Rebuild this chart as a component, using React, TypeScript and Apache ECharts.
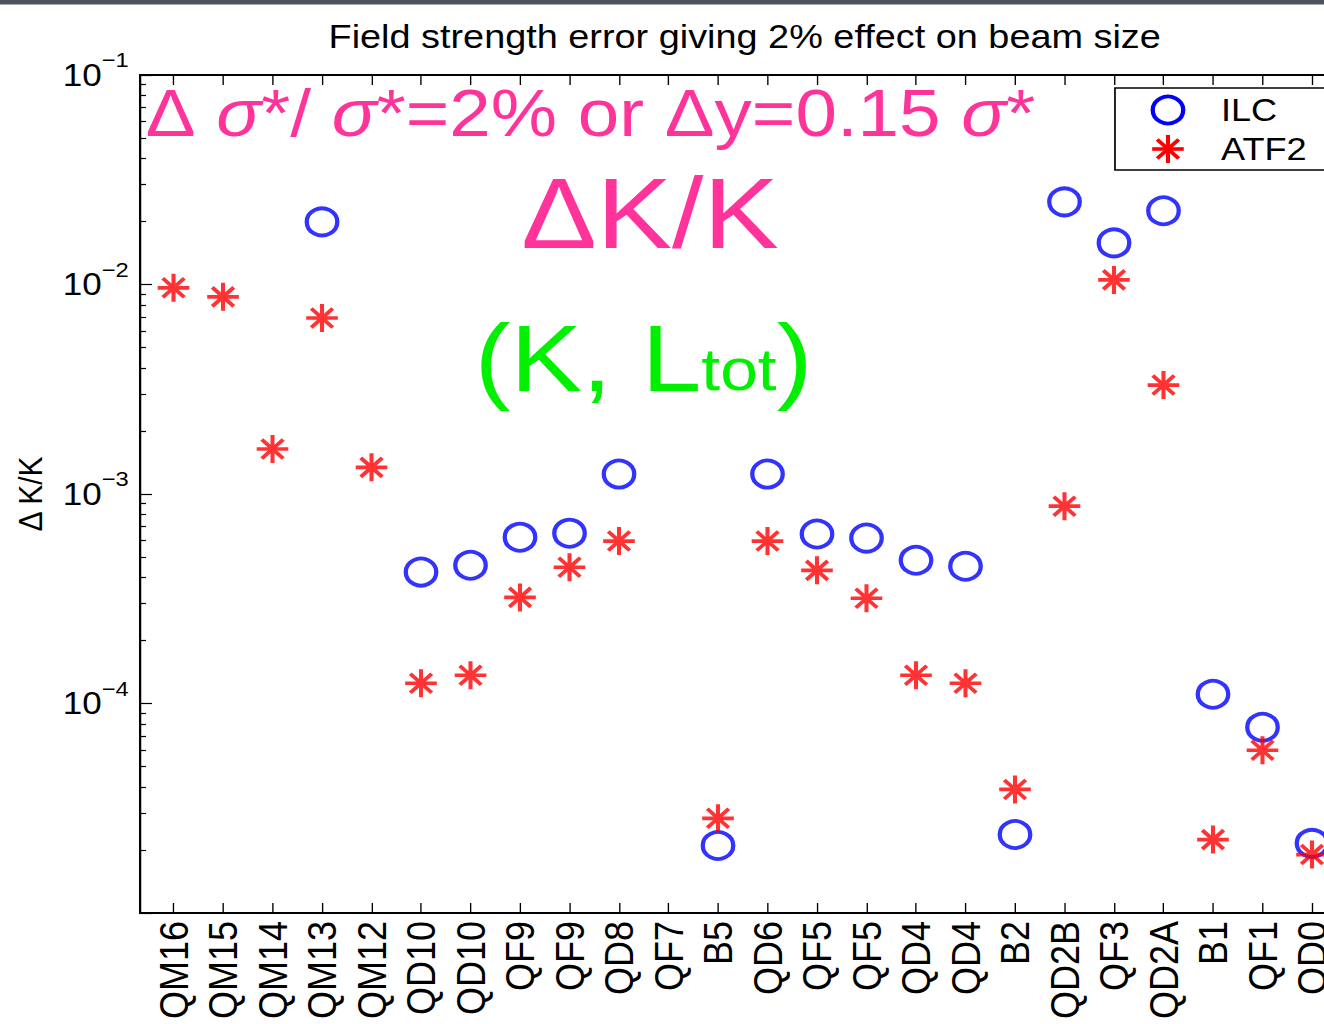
import React, { useEffect, useRef } from "react";
import * as echarts from "echarts";

// Magnet names along the beam line
const magnets = [
  "QM16", "QM15", "QM14", "QM13", "QM12", "QD10", "QD10", "QF9", "QF9", "QD8", "QF7", "B5",
  "QD6", "QF5", "QF5", "QD4", "QD4", "B2", "QD2B", "QF3", "QD2A", "B1", "QF1", "QD0",
];

// Field strength tolerance ΔK/K giving a 2% beam size effect (null: not evaluated)
const ilcTol = [
  null, null, null, 0.0199, null, 4.24e-4, 4.57e-4, 6.22e-4, 6.5e-4, 1.245e-3, null, 2.1e-5,
  1.245e-3, 6.44e-4, 6.16e-4, 4.83e-4, 4.52e-4, 2.37e-5, 0.0248, 0.0158, 0.0225, 1.107e-4, 7.7e-5, 2.15e-5,
];
const atf2Tol = [
  9.64e-3, 8.73e-3, 1.64e-3, 6.92e-3, 1.34e-3, 1.25e-4, 1.365e-4, 3.21e-4, 4.47e-4, 5.96e-4, null, 2.83e-5,
  5.96e-4, 4.32e-4, 3.18e-4, 1.365e-4, 1.25e-4, 3.89e-5, 8.75e-4, 0.01052, 3.31e-3, 2.24e-5, 5.98e-5, 1.9e-5,
];

// Decade exponents that carry a tick label
const yLabelExponents = [-4, -3, -2, -1];
const yMinorMantissas = [2, 3, 4, 5, 6, 7, 8, 9];
const yDecades = [-5, -4, -3, -2];

const Y_MIN = 1e-5;
const Y_MAX = 1e-1;
const X_MIN = 0.323;
const X_MAX = 24.25;

// The figure is drawn at a narrower width and widened horizontally
const SX = 1.13;
const W = 1172;
const H = 1024;

const FONT = "'Liberation Sans', Arial, Helvetica, sans-serif";
const PINK = "#ff3399";
const GREEN = "#00f000";

const positions = magnets.map((_, i) => i + 1);
const minorValues: number[] = [];
yDecades.forEach((e) => yMinorMantissas.forEach((m) => minorValues.push(m * Math.pow(10, e))));

const toPoints = (vals: (number | null)[]) =>
  vals.map((v, i) => [i + 1, v]).filter((d) => d[1] !== null);

const asteriskPath =
  "path://M14 0V28M0 14H28M4.5 4.5L23.5 23.5M4.5 23.5L23.5 4.5";

export default function App() {
  const ref = useRef<HTMLDivElement>(null);

  useEffect(() => {
    if (!ref.current) return;
    const chart = echarts.init(ref.current, undefined, { renderer: "svg" });

    const lx = 1033.6;
    const ly2 = 149;
    const ar = 14;
    const ad = 9.5;

    chart.setOption({
      animation: false,
      backgroundColor: "#ffffff",
      textStyle: { fontFamily: FONT },
      title: {
        text: "Field strength error giving 2% effect on beam size",
        left: 659,
        top: 20,
        textAlign: "center",
        padding: 0,
        textStyle: { fontSize: 33.5, fontWeight: "normal", color: "#000", fontFamily: FONT },
      },
      grid: {
        left: 123.9,
        right: 0,
        top: 75,
        bottom: 111,
        containLabel: false,
        outerBoundsMode: "none",
      },
      xAxis: [
        {
          type: "value",
          position: "bottom",
          min: X_MIN,
          max: X_MAX,
          splitLine: { show: false },
          axisLine: { show: true, lineStyle: { color: "#000", width: 2 } },
          axisTick: {
            show: true,
            inside: true,
            length: 10,
            customValues: positions,
            lineStyle: { color: "#000", width: 1.2 },
          },
          axisLabel: {
            show: true,
            customValues: positions,
            formatter: (v: number) => magnets[Math.round(v) - 1] ?? "",
            rotate: 90,
            margin: 8,
            fontSize: 36,
            color: "#000",
            fontFamily: FONT,
          },
        },
        {
          type: "value",
          position: "top",
          min: X_MIN,
          max: X_MAX,
          splitLine: { show: false },
          axisLine: { show: true, lineStyle: { color: "#000", width: 2 } },
          axisTick: {
            show: true,
            inside: true,
            length: 10,
            customValues: positions,
            lineStyle: { color: "#000", width: 1.2 },
          },
          axisLabel: { show: false },
        },
      ],
      yAxis: [
        {
          type: "log",
          logBase: 10,
          min: Y_MIN,
          max: Y_MAX,
          position: "left",
          name: "Δ K/K",
          nameLocation: "middle",
          nameGap: 82,
          nameTextStyle: { fontSize: 30, color: "#000", fontFamily: FONT },
          splitLine: { show: false },
          axisLine: { show: true, lineStyle: { color: "#000", width: 2 } },
          axisTick: { show: true, inside: true, length: 10.6, lineStyle: { color: "#000", width: 1.2 } },
          axisLabel: {
            margin: 10,
            color: "#000",
            formatter: (v: number) => {
              const e = Math.round(Math.log10(v));
              if (!yLabelExponents.includes(e)) return "";
              return `{b|10}{s|\u2212${-e}}`;
            },
            rich: {
              b: { fontSize: 31, fontFamily: FONT, color: "#000" },
              s: { fontSize: 21, fontFamily: FONT, color: "#000", padding: [0, 0, 30, 0] },
            },
          },
        },
        {
          type: "log",
          logBase: 10,
          min: Y_MIN,
          max: Y_MAX,
          position: "left",
          splitLine: { show: false },
          axisLine: { show: false },
          axisTick: {
            show: true,
            inside: true,
            length: 5.3,
            customValues: minorValues,
            lineStyle: { color: "#000", width: 1.2 },
          },
          axisLabel: { show: false },
        },
      ],
      series: [
        {
          name: "ILC",
          type: "scatter",
          xAxisIndex: 0,
          yAxisIndex: 0,
          symbol: "circle",
          symbolSize: 27,
          itemStyle: { color: "rgba(0,0,0,0)", borderColor: "#0000ff", borderWidth: 3.8 },
          data: toPoints(ilcTol),
        },
        {
          name: "ATF2",
          type: "scatter",
          xAxisIndex: 0,
          yAxisIndex: 0,
          symbol: asteriskPath,
          symbolSize: 28,
          itemStyle: { color: "rgba(0,0,0,0)", borderColor: "#ff0000", borderWidth: 3.6 },
          data: toPoints(atf2Tol),
        },
      ],
      graphic: [
        {
          type: "rect",
          left: 0,
          top: 0,
          shape: { x: 0, y: 0, width: W, height: 4.5 },
          style: { fill: "#50535c" },
          silent: true,
        },
        {
          type: "text",
          x: 129,
          y: 113.5,
          style: {
            text: "{n|Δ }{i|σ}{n|*/ }{i|σ}{n|*=2% or Δy=0.15 }{i|σ}{n|*}",
            fill: PINK,
            align: "left",
            verticalAlign: "middle",
            rich: {
              n: { fontSize: 66, fontFamily: FONT, fill: PINK },
              i: { fontSize: 66, fontFamily: FONT, fontStyle: "italic", fill: PINK },
            },
          },
        },
        {
          type: "text",
          x: 575.2,
          y: 213.5,
          style: {
            text: "ΔK/K",
            fill: PINK,
            font: `100px ${FONT}`,
            align: "center",
            verticalAlign: "middle",
          },
        },
        {
          type: "text",
          x: 569.5,
          y: 357.5,
          style: {
            text: "{m|(K, L}{t|tot}{m|)}",
            fill: GREEN,
            align: "center",
            verticalAlign: "middle",
            rich: {
              m: { fontSize: 95, fontFamily: FONT, fill: GREEN },
              t: { fontSize: 60, fontFamily: FONT, fill: GREEN, padding: [24, 0, 0, 0] },
            },
          },
        },
        // legend box
        {
          type: "rect",
          shape: { x: 986.7, y: 88, width: 300, height: 82 },
          style: { fill: "#ffffff", stroke: "#000", lineWidth: 1.5 },
        },
        {
          type: "circle",
          shape: { cx: lx, cy: 110, r: 13.5 },
          style: { fill: "none", stroke: "#0000ff", lineWidth: 3.8 },
        },
        { type: "line", shape: { x1: lx, y1: ly2 - ar, x2: lx, y2: ly2 + ar }, style: { stroke: "#ff0000", lineWidth: 3.6 } },
        { type: "line", shape: { x1: lx - ar, y1: ly2, x2: lx + ar, y2: ly2 }, style: { stroke: "#ff0000", lineWidth: 3.6 } },
        { type: "line", shape: { x1: lx - ad, y1: ly2 - ad, x2: lx + ad, y2: ly2 + ad }, style: { stroke: "#ff0000", lineWidth: 3.6 } },
        { type: "line", shape: { x1: lx - ad, y1: ly2 + ad, x2: lx + ad, y2: ly2 - ad }, style: { stroke: "#ff0000", lineWidth: 3.6 } },
        {
          type: "text",
          x: 1080.5,
          y: 110,
          style: { text: "ILC", font: `32px ${FONT}`, fill: "#000", align: "left", verticalAlign: "middle" },
        },
        {
          type: "text",
          x: 1080.5,
          y: 148.3,
          style: { text: "ATF2", font: `32px ${FONT}`, fill: "#000", align: "left", verticalAlign: "middle" },
        },
      ],
    });

    return () => chart.dispose();
  }, []);

  return (
    <div
      style={{
        position: "fixed",
        left: 0,
        top: 0,
        width: 1324,
        height: H,
        overflow: "hidden",
        background: "#ffffff",
      }}
    >
      <div
        ref={ref}
        style={{ width: W, height: H, transform: `scaleX(${SX})`, transformOrigin: "0 0" }}
      />
    </div>
  );
}
